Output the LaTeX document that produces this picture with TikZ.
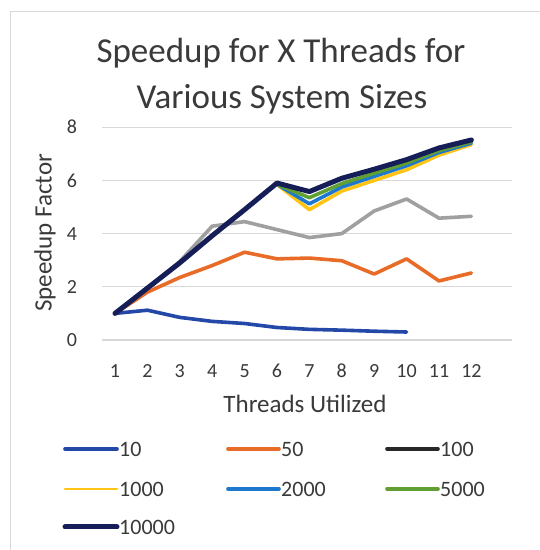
\documentclass[tikz,border=0pt]{standalone}
\usepackage{fontspec}
\setmainfont{Carlito}
\tikzset{>=stealth}
\usetikzlibrary{positioning}
\definecolor{txtgray}{RGB}{58,58,58}
\definecolor{gridgray}{RGB}{217,217,217}
\definecolor{c10}{RGB}{36,72,168}
\definecolor{c50}{RGB}{232,108,40}
\definecolor{c100}{RGB}{160,160,160}
\definecolor{c100leg}{RGB}{40,40,40}
\definecolor{c1000}{RGB}{255,196,20}
\definecolor{c2000}{RGB}{30,120,205}
\definecolor{c5000}{RGB}{96,160,50}
\definecolor{c10000}{RGB}{22,30,88}

\tikzset{
	gridline/.style={draw=gridgray, line width=1.3pt},
	series/.style={line width=3.6pt, line join=round, line cap=round},
	s10/.style={series, draw=c10},
	s50/.style={series, draw=c50},
	s100/.style={series, draw=c100},
	s1000/.style={series, draw=c1000},
	s2000/.style={series, draw=c2000},
	s5000/.style={series, draw=c5000},
	s10000/.style={series, draw=c10000, line width=5pt},
	titletext/.style={text=txtgray, font=\fontsize{35}{40}\selectfont, inner sep=0pt},
	ticklabel/.style={text=txtgray, font=\fontsize{20}{24}\selectfont, inner sep=0pt},
	axistitle/.style={text=txtgray, font=\fontsize{25}{30}\selectfont, inner sep=0pt},
	legtext/.style={anchor=west, text=txtgray, font=\fontsize{22}{26}\selectfont, inner sep=2pt},
}

\begin{document}
\begin{tikzpicture}[x=1pt,y=1pt]
	\useasboundingbox[fill=white] (0,0) rectangle (540,550);
	% faint frame of the chart area
	\draw[gridgray, line width=1pt] (10,0) -- (10,538) -- (540,538);

	% title
	\node[titletext] (title1) at (281,497) {Speedup for X Threads for};
	\node[titletext] (title2) at (282,451) {Various System Sizes};

	\begin{scope}[x=32.4pt, y=26.6pt, shift={(82.6pt,210pt)}]
		\foreach \v in {0,2,...,8} {
			\draw[gridline] (0.6,\v) -- (13.25,\v);
			\node[ticklabel] (y\v) at (-0.33,\v) {\v};
		}
		\foreach \i in {1,...,12}
			\node[ticklabel] (x\i) at (\i,-1.17) {\i};

		% data
		\draw[s10] plot coordinates {(1,1) (2,1.12) (3,0.85) (4,0.7) (5,0.62) (6,0.47) (7,0.4) (8,0.37) (9,0.33) (10,0.3)};
		\draw[s50] plot coordinates {(1,1) (2,1.8) (3,2.35) (4,2.8) (5,3.3) (6,3.05) (7,3.08) (8,2.98) (9,2.48) (10,3.05) (11,2.22) (12,2.52)};
		\draw[s100] plot coordinates {(1,1) (2,1.95) (3,2.95) (4,4.28) (5,4.45) (6,4.15) (7,3.85) (8,4.0) (9,4.85) (10,5.3) (11,4.58) (12,4.65)};
		\draw[s1000] plot coordinates {(6,5.85) (7,4.9) (8,5.6) (9,6.0) (10,6.4) (11,6.95) (12,7.35)};
		\draw[s2000] plot coordinates {(6,5.85) (7,5.12) (8,5.75) (9,6.15) (10,6.55) (11,7.05) (12,7.4)};
		\draw[s5000] plot coordinates {(6,5.85) (7,5.35) (8,5.88) (9,6.27) (10,6.65) (11,7.12) (12,7.45)};
		\draw[s10000] plot coordinates {(1,1) (2,1.95) (3,2.9) (4,3.92) (5,4.9) (6,5.9) (7,5.58) (8,6.08) (9,6.42) (10,6.78) (11,7.22) (12,7.52)};
	\end{scope}

	% axis titles
	\node[axistitle] (xtitle) at (305,146) {Threads Utilized};
	\node[axistitle, rotate=90] (ytitle) at (45,317) {Speedup Factor};

	% legend
	\node[legtext] (t10) at (117,101) {10};
	\node[legtext] (t50) at (279,101) {50};
	\node[legtext] (t100) at (438,101) {100};
	\node[legtext] (t1000) at (117,61) {1000};
	\node[legtext] (t2000) at (279,61) {2000};
	\node[legtext] (t5000) at (438,61) {5000};
	\node[legtext] (t10000) at (117,23) {10000};
	\coordinate (k10) at (65,101);
	\coordinate (k50) at (228,101);
	\coordinate (k100) at (387,101);
	\coordinate (k1000) at (65,61);
	\coordinate (k2000) at (228,61);
	\coordinate (k5000) at (387,61);
	\coordinate (k10000) at (65,23);
	\draw[s10] (k10) -- (t10.west);
	\draw[s50] (k50) -- (t50.west);
	\draw[s100, draw=c100leg] (k100) -- (t100.west);
	\draw[s1000, line width=2.5pt] (k1000) -- (t1000.west);
	\draw[s2000] (k2000) -- (t2000.west);
	\draw[s5000] (k5000) -- (t5000.west);
	\draw[s10000] (k10000) -- (t10000.west);
\end{tikzpicture}
\end{document}
